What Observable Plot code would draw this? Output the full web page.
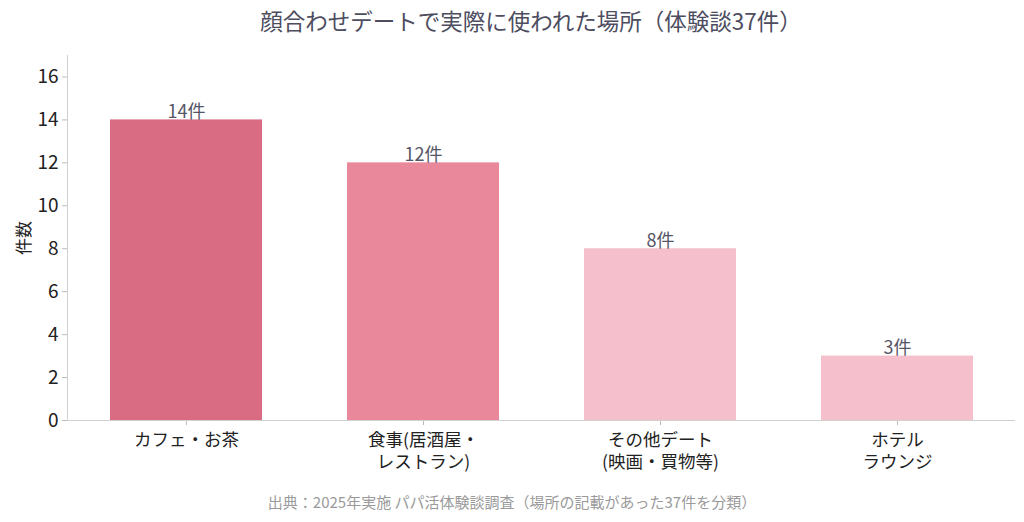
<!DOCTYPE html>
<html>
<head>
<meta charset="utf-8">
<script src="https://cdn.jsdelivr.net/npm/d3@7"></script>
<script src="https://cdn.jsdelivr.net/npm/@observablehq/plot@0.6"></script>
<style>
  body { margin: 0; background: #fff; font-family: "Noto Sans CJK JP", "Noto Sans", sans-serif; }
  #wrap { width: 1024px; height: 522px; position: relative; overflow: hidden; }
  #title { height: 45px; line-height: 40px; font-size: 22.5px; color: #4d4d5f; text-align: center; padding-left: 38px; box-sizing: border-box; white-space: nowrap; }
  #caption { position: absolute; top: 491px; left: 0; width: 1024px; text-align: center; font-size: 15px; color: #9a9a9a; }
</style>
</head>
<body>
<div id="wrap">
  <div id="title">顔合わせデートで実際に使われた場所（体験談37件）</div>
  <div id="chart"></div>
  <div id="caption">出典：2025年実施 パパ活体験談調査（場所の記載があった37件を分類）</div>
</div>
<script>
const categories = ["カフェ・お茶", "食事(居酒屋・\nレストラン)", "その他デート\n(映画・買物等)", "ホテル\nラウンジ"];
const counts = [14, 12, 8, 3];
const colors = ["#d96b82", "#e8889a", "#f5bfcc", "#f5bfcc"];
const yTicks = [0, 2, 4, 6, 8, 10, 12, 14, 16];

const data = categories.map((c, i) => ({category: c, count: counts[i], color: colors[i]}));

const chart = Plot.plot({
  width: 1024,
  height: 435,
  marginLeft: 67,
  marginRight: 9,
  marginTop: 10,
  marginBottom: 60,
  style: {fontFamily: '"Noto Sans CJK JP", "Noto Sans", sans-serif', background: "#fff"},
  x: {domain: categories, paddingInner: 0.36, paddingOuter: 0.18},
  y: {domain: [0, 17]},
  marks: [
    Plot.barY(data, {x: "category", y: "count", fill: "color"}),
    Plot.text(data, {x: "category", y: "count", text: d => d.count + "件", lineAnchor: "bottom", dy: -2, fontSize: 18, fill: "#555566"}),
    Plot.axisY({ticks: yTicks, tickSize: 5, tickPadding: 4, fontSize: 19, color: "#222", stroke: "#bbb", label: "件数", labelArrow: "none", labelAnchor: "center", labelOffset: 50}),
    Plot.axisX({tickSize: 5, tickPadding: 5, fontSize: 17.5, lineHeight: 1.24, color: "#222", stroke: "#bbb", label: null}),
    Plot.frame({anchor: "left", stroke: "#d0d0d0"}),
    Plot.ruleY([0], {stroke: "#d0d0d0", strokeWidth: 1.2})
  ]
});
chart.querySelectorAll('g[aria-label="y-axis tick"] path, g[aria-label="x-axis tick"] path').forEach(p => p.setAttribute("stroke", "#bbb"));
const yl = chart.querySelector('g[aria-label="y-axis label"]');
if (yl) yl.setAttribute("font-size", "17");
document.getElementById("chart").appendChild(chart);
</script>
</body>
</html>
